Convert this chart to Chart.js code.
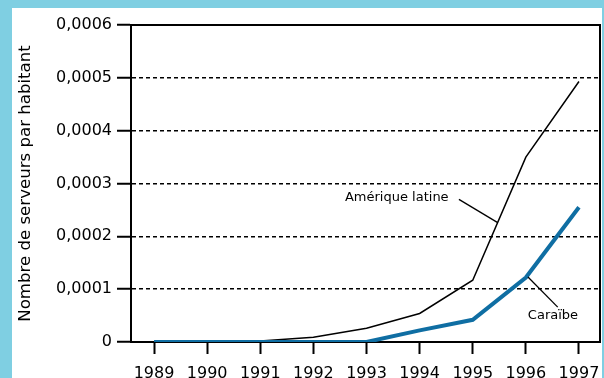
<!DOCTYPE html>
<html>
<head>
<meta charset="utf-8">
<script src="https://cdn.jsdelivr.net/npm/chart.js@4/dist/chart.umd.min.js"></script>
<style>
  html, body { margin: 0; padding: 0; background: #7fcfe2; }
  #wrap { width: 604px; height: 378px; }
</style>
</head>
<body>
<div id="wrap"><canvas id="c" width="604" height="378"></canvas></div>
<script>
// ---- Data ----
const years = [1989, 1990, 1991, 1992, 1993, 1994, 1995, 1996, 1997];
const ameriqueLatine = [0, 0, 0.000002, 0.000009, 0.000026, 0.000054, 0.000117, 0.00035, 0.000493];
const caraibe = [0, 0, 0, 0, 0, 0.000022, 0.000042, 0.000122, 0.000255];
const yTickValues = [0, 0.0001, 0.0002, 0.0003, 0.0004, 0.0005, 0.0006];
const yTickLabels = ['0', '0,0001', '0,0002', '0,0003', '0,0004', '0,0005', '0,0006'];
const seriesNames = ['Amérique latine', 'Caraïbe'];
const yTitle = 'Nombre de serveurs par habitant';

// annotation anchors in data coordinates
const notes = [
  { text: seriesNames[0], at: [1993.57, 0.000274], line: [[1994.74, 0.00027], [1995.47, 0.000226]] },
  { text: seriesNames[1], at: [1996.51, 0.000049], line: [[1996.04, 0.000123], [1996.6, 0.000066]] }
];

const FONT = 'DejaVu Sans';

const panelPlugin = {
  id: 'panel',
  beforeDraw(chart) {
    const ctx = chart.ctx;
    ctx.save();
    ctx.fillStyle = '#7fcfe2';
    ctx.fillRect(0, 0, chart.width, chart.height);
    ctx.fillStyle = '#ffffff';
    ctx.fillRect(12, 8, 590, chart.height - 8);
    ctx.restore();
  },
  beforeDatasetsDraw(chart) {
    const ctx = chart.ctx, a = chart.chartArea;
    ctx.save();
    ctx.strokeStyle = '#000';
    ctx.lineWidth = 2;
    ctx.beginPath();
    ctx.moveTo(a.left, a.top);
    ctx.lineTo(a.right, a.top);
    ctx.lineTo(a.right, a.bottom);
    ctx.stroke();
    ctx.restore();
  },
  afterDatasetsDraw(chart) {
    const ctx = chart.ctx, xs = chart.scales.x, ys = chart.scales.y;
    ctx.save();
    ctx.fillStyle = '#000';
    ctx.strokeStyle = '#000';
    ctx.lineWidth = 1.3;
    ctx.font = '13px "' + FONT + '"';
    ctx.textAlign = 'center';
    ctx.textBaseline = 'middle';
    notes.forEach(n => {
      ctx.fillText(n.text, xs.getPixelForValue(n.at[0]), ys.getPixelForValue(n.at[1]));
      ctx.beginPath();
      ctx.moveTo(xs.getPixelForValue(n.line[0][0]), ys.getPixelForValue(n.line[0][1]));
      ctx.lineTo(xs.getPixelForValue(n.line[1][0]), ys.getPixelForValue(n.line[1][1]));
      ctx.stroke();
    });
    ctx.restore();
  }
};

new Chart(document.getElementById('c'), {
  type: 'line',
  data: {
    datasets: [
      {
        label: seriesNames[1],
        data: years.map((x, i) => ({ x: x, y: caraibe[i] })),
        borderColor: '#0f6ea3',
        borderWidth: 4,
        pointRadius: 0,
        tension: 0,
        fill: false
      },
      {
        label: seriesNames[0],
        data: years.map((x, i) => ({ x: x, y: ameriqueLatine[i] })),
        borderColor: '#000000',
        borderWidth: 1.5,
        pointRadius: 0,
        tension: 0,
        fill: false
      }
    ]
  },
  options: {
    responsive: false,
    animation: false,
    layout: { padding: { left: 0, right: 4, top: 25, bottom: 0 } },
    plugins: { legend: { display: false }, tooltip: { enabled: false }, title: { display: false } },
    scales: {
      x: {
        type: 'linear',
        min: 1988.566,
        max: 1997.396,
        afterBuildTicks(scale) { scale.ticks = years.map(v => ({ value: v })); },
        afterFit(scale) { scale.height = 36; scale.paddingLeft = 0; scale.paddingRight = 0; },
        ticks: {
          callback: (v) => String(v),
          color: '#000',
          font: { family: FONT, size: 16 },
          padding: 10,
          maxRotation: 0,
          autoSkip: false
        },
        grid: {
          display: true,
          drawOnChartArea: false,
          drawTicks: true,
          tickLength: 12,
          tickColor: '#000',
          tickWidth: 2
        },
        border: { display: true, color: '#000', width: 2 }
      },
      y: {
        type: 'linear',
        min: 0,
        max: 0.0006,
        afterBuildTicks(scale) { scale.ticks = yTickValues.map(v => ({ value: v })); },
        afterFit(scale) { scale.width = 131; scale.paddingTop = 0; scale.paddingBottom = 0; },
        ticks: {
          callback: (v, i) => yTickLabels[i],
          color: '#000',
          font: { family: FONT, size: 16 },
          padding: 5
        },
        grid: {
          display: true,
          drawOnChartArea: true,
          drawTicks: true,
          tickLength: 14,
          color: '#000',
          lineWidth: 1.5,
          tickColor: '#000',
          tickWidth: 2,
          tickBorderDash: []
        },
        border: { display: true, color: '#000', width: 2, dash: [4, 3] },
        title: {
          display: true,
          text: yTitle,
          color: '#000',
          font: { family: FONT, size: 16.6 },
          padding: { top: 16, bottom: 0 }
        }
      }
    }
  },
  plugins: [panelPlugin]
});
</script>
</body>
</html>
